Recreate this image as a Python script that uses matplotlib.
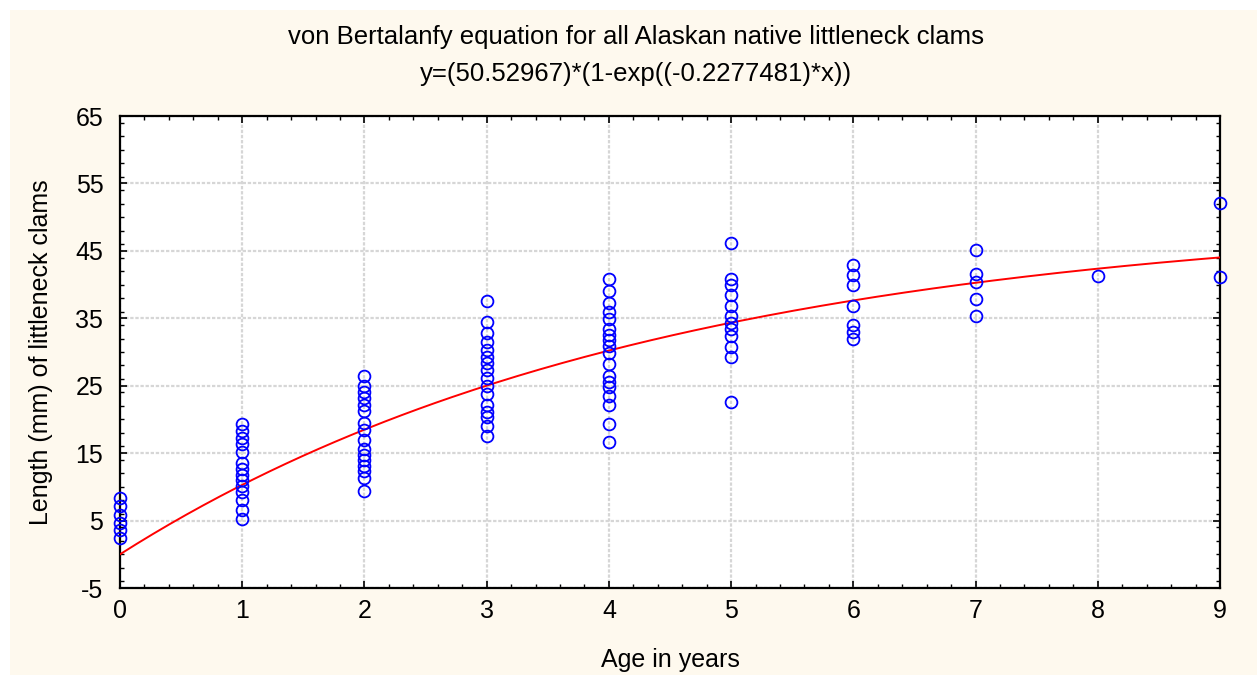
import numpy as np
import matplotlib as mpl
mpl.use("Agg")
import matplotlib.pyplot as plt
from matplotlib.patches import Rectangle
from matplotlib.ticker import MultipleLocator

plt.rcParams["font.family"] = ["Liberation Sans", "DejaVu Sans"]
plt.rcParams["axes.unicode_minus"] = False

# measured clam lengths (mm) per age class
ages = [0] * 6 + [1] * 14 + [2] * 16 + [3] * 16 + [4] * 18 + [5] * 12 + [6] * 7 + [7] * 5 + [8] + [9] * 2
lengths = [
    8.3, 7.1, 5.8, 4.7, 3.6, 2.4,
    19.3, 18.3, 17.3, 16.4, 15.2, 13.5, 12.6, 11.8, 11.0, 10.1, 9.3, 8.0, 6.6, 5.3,
    26.5, 25.0, 24.0, 23.2, 22.2, 21.3, 19.4, 18.5, 17.0, 15.6, 14.7, 14.0, 13.1, 12.3, 11.3, 9.4,
    37.6, 34.4, 32.8, 31.5, 30.3, 29.3, 28.4, 27.4, 26.1, 25.0, 23.8, 22.1, 21.1, 20.4, 19.0, 17.6,
    40.8, 39.0, 37.2, 35.9, 34.9, 33.4, 32.5, 31.8, 30.9, 29.8, 28.2, 26.5, 25.6, 24.8, 23.5, 22.1, 19.3, 16.7,
    46.2, 40.8, 39.9, 38.5, 36.8, 35.4, 34.3, 33.4, 32.4, 30.8, 29.3, 22.6,
    42.9, 41.4, 39.9, 36.8, 34.0, 33.0, 32.0,
    45.2, 41.5, 40.4, 37.8, 35.3,
    41.3,
    52.1, 41.1,
]
yticks = [-5, 5, 15, 25, 35, 45, 55, 65]

# fitted von Bertalanffy parameters
L_inf = 50.52967
k = 0.2277481

W, H = 1257, 675
fig = plt.figure(figsize=(W / 100, H / 100), dpi=100, facecolor="white")
fig.patches.append(Rectangle((10 / W, 0), 1 - 10 / W, 1 - 10 / H, transform=fig.transFigure,
                             facecolor="#fef9ee", edgecolor="none", zorder=-10))

ax = fig.add_axes([120 / W, 1 - 588 / H, 1100 / W, 472 / H])
ax.set_facecolor("white")

ax.grid(True, which="major", color="#d6d6d6", linestyle=(0, (1.5, 0.8)), linewidth=1.6)
ax.set_axisbelow(True)

xs = np.linspace(0, 9, 200)
ax.plot(xs, L_inf * (1 - np.exp(-k * xs)), color="red", linewidth=1.4, zorder=3)
ax.plot(ages, lengths, linestyle="none", marker="o", markersize=8.5,
        markerfacecolor="none", markeredgecolor="#0000ff", markeredgewidth=1.3, zorder=4, clip_on=False)

ax.set_xlim(0, 9)
ax.set_ylim(-5, 65)
ax.xaxis.set_major_locator(MultipleLocator(1))
ax.xaxis.set_minor_locator(MultipleLocator(0.2))
ax.set_yticks(yticks)
ax.yaxis.set_minor_locator(MultipleLocator(2))
ax.tick_params(which="both", direction="in", top=True, right=True, labelsize=18, color="black")
ax.tick_params(which="major", length=5, width=1.2, pad=8)
ax.tick_params(axis="y", which="major", pad=12)
ax.tick_params(which="minor", length=3, width=1.0)
for s in ax.spines.values():
    s.set_linewidth(1.6)

ax.set_xlabel("Age in years", fontsize=18, labelpad=18)
ax.set_ylabel("Length (mm) of littleneck clams", fontsize=18, labelpad=16)

fig.text(0.506, 1 - 37 / H, "von Bertalanfy equation for all Alaskan native littleneck clams",
         ha="center", va="center", fontsize=18.5)
fig.text(0.506, 1 - 74 / H, "y=(50.52967)*(1-exp((-0.2277481)*x))",
         ha="center", va="center", fontsize=18.5)

fig.savefig("out.png", dpi=100, facecolor=fig.get_facecolor())
